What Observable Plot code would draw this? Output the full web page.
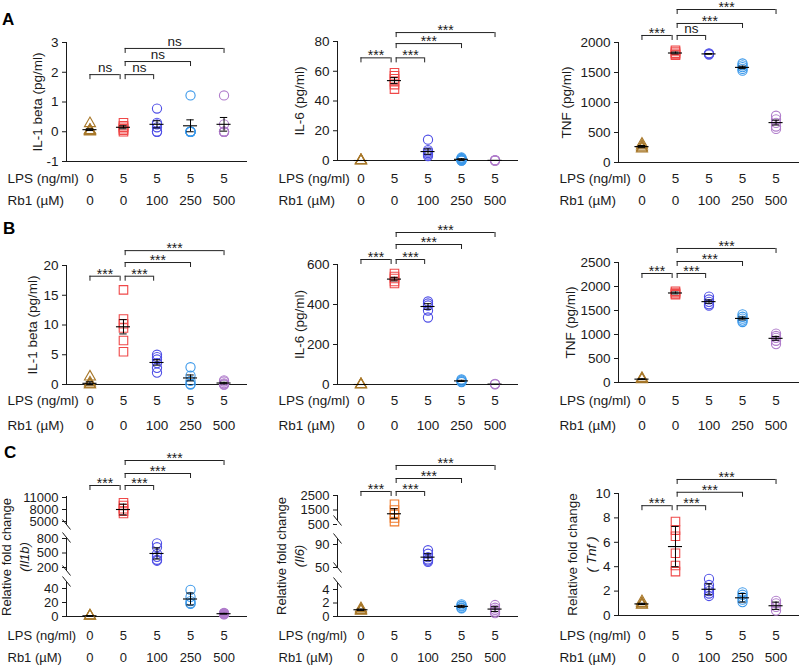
<!DOCTYPE html>
<html><head><meta charset="utf-8">
<script src="https://cdn.jsdelivr.net/npm/d3@7"></script>
<script src="https://cdn.jsdelivr.net/npm/@observablehq/plot@0.6"></script>
<style>
body{margin:0;background:#fff;}
#fig{position:relative;width:800px;height:670px;font-family:"Liberation Sans",Arial,sans-serif;overflow:hidden;background:#fff}
.panel{position:absolute}
#letters{position:absolute;left:0;top:0}
</style></head><body><div id="fig"><svg id="letters" width="800" height="670"></svg></div>
<script>
// ---------- shared categories / labels ----------
const groups = ["Control", "LPS", "LPS + Rb1 100", "LPS + Rb1 250", "LPS + Rb1 500"];
const lpsDose = [0, 5, 5, 5, 5];
const rb1Dose = [0, 0, 100, 250, 500];
const symbols = ["triangle", "square", "circle", "circle", "circle"];
const groupColors = ["#a8782a", "#f04848", "#4f4fe6", "#3a98ea", "#b07ccb"];
const bracketPairs = [[0, 0.9], [1.05, 1.9], [1.05, 3], [1.05, 4]];

// ---------- A: IL-1 beta / IL-6 / TNF (pg/ml) ----------
const A1_ticks = [-1, 0, 1, 2, 3];
const A1_values = [[0.28, 0.05, 0.02, 0, 0.05, 0.02], [0.3, 0.2, 0.15, 0.1, 0.05, 0], [0.78, 0.3, 0.25, 0.15, 0, 0], [1.22, 0, 0, 0, 0, 0], [1.22, 0.25, 0, 0, 0, 0]];
const A1_mean = [0.07, 0.15, 0.25, 0.2, 0.25];
const A1_sem = [0.03, 0.05, 0.12, 0.2, 0.23];
const A1_brackets = [1.92, 1.92, 2.36, 2.8];
const A1_sig = ["ns", "ns", "ns", "ns"];

const A2_ticks = [0, 20, 40, 60, 80];
const A2_values = [[0, 0, 0, 0], [59, 57, 55, 53, 51, 48], [14, 7, 6, 5, 4, 3], [2, 1.5, 1, 0.5, 0, 0], [0.2, 0, 0, 0]];
const A2_mean = [0, 53.7, 6, 0.8, 0.1];
const A2_sem = [0, 2, 1.8, 0.4, 0];
const A2_brackets = [69, 69, 78.6, 86];
const A2_sig = ["***", "***", "***", "***"];

const A3_ticks = [0, 500, 1000, 1500, 2000];
const A3_values = [[310, 280, 250, 230], [1870, 1850, 1820, 1800, 1790], [1820, 1810, 1800], [1650, 1620, 1590, 1560, 1530], [780, 720, 660, 600, 560]];
const A3_mean = [265, 1825, 1810, 1585, 665];
const A3_sem = [18, 15, 5, 20, 40];
const A3_brackets = [2117, 2117, 2317, 2550];
const A3_sig = ["***", "ns", "***", "***"];

// ---------- B ----------
const B1_ticks = [0, 5, 10, 15, 20];
const B1_values = [[1.3, 0.3, 0, 0], [15.9, 11, 10.2, 9.5, 7.4, 5.5], [5.0, 4.6, 4.2, 3.6, 2.8, 2.0], [2.9, 1.5, 0.6, 0.1, 0], [0.7, 0.5, 0.2, 0, 0]];
const B1_mean = [0.2, 9.7, 3.7, 1.1, 0.25];
const B1_sem = [0.25, 1.2, 0.45, 0.5, 0.12];
const B1_brackets = [18.2, 18.2, 20.5, 22.5];
const B1_sig = ["***", "***", "***", "***"];

const B2_ticks = [0, 200, 400, 600];
const B2_values = [[0, 0, 0], [555, 540, 530, 515, 505], [415, 405, 395, 370, 335], [25, 20, 15, 12], [3, 2, 1]];
const B2_mean = [0, 527, 390, 18, 2];
const B2_sem = [0, 9, 14, 3, 0];
const B2_brackets = [625, 625, 700, 760];
const B2_sig = ["***", "***", "***", "***"];

const B3_ticks = [0, 500, 1000, 1500, 2000, 2500];
const B3_values = [[90, 75, 60], [1900, 1875, 1850, 1830], [1790, 1730, 1680, 1630, 1600], [1420, 1370, 1330, 1290, 1260], [1020, 970, 930, 870, 800]];
const B3_mean = [70, 1865, 1685, 1335, 920];
const B3_sem = [8, 20, 35, 30, 40];
const B3_brackets = [2271, 2271, 2521, 2792];
const B3_sig = ["***", "***", "***", "***"];

// ---------- C: relative fold change (broken axes for Il1b, Il6) ----------
const C1_ticks = [0, 20, 40, 200, 500, 800, 5000, 8000, 11000];
const C1_breakData = [0, 40, 200, 800, 5000, 11000];
const C1_breakDisp = [0, 28, 49, 78, 95, 119];
const C1_segments = [[92, 120], [46, 79], [0, 35]];
const C1_slashes = [92, 79, 46, 35];
const C1_values = [[1.2, 1.0, 0.8], [9700, 9000, 8200, 7600, 7000], [700, 620, 480, 420, 360, 340], [38, 28, 22, 19, 18], [5, 4.5, 4, 3.5, 3]];
const C1_mean = [1, 8000, 490, 25, 4];
const C1_sem = [0.1, 1350, 115, 8.5, 0.5];
const C1_brackets = [14000, 14000, 17000, 20250];
const C1_sig = ["***", "***", "***", "***"];

const C2_ticks = [0, 2, 4, 50, 90, 500, 1500, 2500];
const C2_breakData = [0, 4, 50, 90, 500, 2500];
const C2_breakDisp = [0, 27, 49, 72, 92, 121];
const C2_segments = [[96, 121], [49, 78], [0, 34]];
const C2_slashes = [96, 78, 49, 34];
const C2_values = [[1.2, 1.0, 0.9, 0.8], [1900, 1500, 1200, 950, 700], [80, 74, 68, 64, 62, 60], [1.8, 1.6, 1.5, 1.3, 1.2], [1.7, 1.3, 1.0, 0.7, 0.5]];
const C2_mean = [1.0, 1240, 68, 1.5, 1.1];
const C2_sem = [0.1, 345, 6, 0.15, 0.35];
const C2_brackets = [2776, 2776, 3672, 4569];
const C2_sig = ["***", "***", "***", "***"];

const C3_ticks = [0, 2, 4, 6, 8, 10];
const C3_values = [[1.15, 1.0, 0.9, 0.85], [7.7, 7.0, 6.5, 5.1, 4.1, 3.6], [3.0, 2.5, 2.2, 2.0, 1.8, 1.6], [1.9, 1.7, 1.5, 1.3, 1.1], [1.2, 1.0, 0.7, 0.4]];
const C3_mean = [0.95, 5.65, 2.15, 1.45, 0.8];
const C3_sem = [0.05, 1.65, 0.45, 0.35, 0.3];
const C3_brackets = [9.0, 9.0, 10.1, 11.15];
const C3_sig = ["***", "***", "***", "***"];

// ---------- layout ----------
const W = 270, XMIN = -0.7, XMAX = 4.7, XPX = 181;
const rows = {A: {top: 0, h: 218, text: [182, 204]}, B: {top: 218, h: 222, text: [404, 429]}, C: {top: 440, h: 230, text: [639, 661]}};
const cols = [{left: 0, ml: 66}, {left: 270, ml: 67}, {left: 530, ml: 88}];
const ink = "#1a1a1a";

const panels = [
  {row: "A", col: 0, ft: 42, fb: 161, domain: [-1, 3], ticks: A1_ticks, values: A1_values, mean: A1_mean, sem: A1_sem, brackets: A1_brackets, sig: A1_sig, ylabel: [["IL-1 beta (pg/ml)", -29, false]]},
  {row: "A", col: 1, ft: 41, fb: 160, domain: [0, 80], ticks: A2_ticks, values: A2_values, mean: A2_mean, sem: A2_sem, brackets: A2_brackets, sig: A2_sig, ylabel: [["IL-6 (pg/ml)", -38, false]]},
  {row: "A", col: 2, ft: 42, fb: 162, domain: [0, 2000], ticks: A3_ticks, values: A3_values, mean: A3_mean, sem: A3_sem, brackets: A3_brackets, sig: A3_sig, ylabel: [["TNF (pg/ml)", -52, false]]},
  {row: "B", col: 0, ft: 265, fb: 384, domain: [0, 20], ticks: B1_ticks, values: B1_values, mean: B1_mean, sem: B1_sem, brackets: B1_brackets, sig: B1_sig, ylabel: [["IL-1 beta (pg/ml)", -34, false]]},
  {row: "B", col: 1, ft: 264, fb: 384, domain: [0, 600], ticks: B2_ticks, values: B2_values, mean: B2_mean, sem: B2_sem, brackets: B2_brackets, sig: B2_sig, ylabel: [["IL-6 (pg/ml)", -38, false]]},
  {row: "B", col: 2, ft: 262, fb: 382, domain: [0, 2500], ticks: B3_ticks, values: B3_values, mean: B3_mean, sem: B3_sem, brackets: B3_brackets, sig: B3_sig, ylabel: [["TNF (pg/ml)", -48, false]]},
  {row: "C", col: 0, ft: 497, fb: 616, domain: [0, 119], ticks: C1_ticks, map: d3.scaleLinear().domain(C1_breakData).range(C1_breakDisp), segments: C1_segments, slashes: C1_slashes, values: C1_values, mean: C1_mean, sem: C1_sem, brackets: C1_brackets, sig: C1_sig, filled: [false, false, false, false, true], ylabel: [["Relative fold change", -60, false], ["(Il1b)", -42, true]]},
  {row: "C", col: 1, ft: 495, fb: 616, domain: [0, 121], ticks: C2_ticks, map: d3.scaleLinear().domain(C2_breakData).range(C2_breakDisp), segments: C2_segments, slashes: C2_slashes, values: C2_values, mean: C2_mean, sem: C2_sem, brackets: C2_brackets, sig: C2_sig, colors: ["#a8782a", "#f07a2a", "#4f4fe6", "#3a98ea", "#b07ccb"], ylabel: [["Relative fold change", -56, false], ["(Il6)", -38, true]]},
  {row: "C", col: 2, ft: 493, fb: 615, domain: [0, 10], ticks: C3_ticks, values: C3_values, mean: C3_mean, sem: C3_sem, brackets: C3_brackets, sig: C3_sig, ylabel: [["Relative fold change", -46, false], ["( Tnf )", -27, true]]}
];

const symR = {triangle: 4.1, square: 4.8, circle: 4.6};
const fig = document.getElementById("fig");

function render(p) {
  const row = rows[p.row], col = cols[p.col];
  const f = p.map || (v => v);
  const mt = p.ft - row.top, mb = row.top + row.h - p.fb;
  const unit = (p.domain[1] - p.domain[0]) / (p.fb - p.ft);
  const xu = (XMAX - XMIN) / XPX;
  const colors = p.colors || groupColors;
  const filled = p.filled || [false, false, false, false, false];
  const marks = [];

  // axis lines
  if (p.segments) {
    marks.push(Plot.ruleX(p.segments, {x: () => XMIN, y1: d => d[0], y2: d => d[1], stroke: ink, strokeWidth: 1}));
    marks.push(Plot.link(p.slashes, {x1: () => XMIN - 4 * xu, x2: () => XMIN + 4 * xu, y1: d => d + 5 * unit, y2: d => d - 5 * unit, stroke: ink, strokeWidth: 1}));
  } else {
    marks.push(Plot.ruleX([XMIN], {x: d => d, y1: () => p.domain[0], y2: () => p.domain[1], stroke: ink, strokeWidth: 1}));
  }
  marks.push(Plot.ruleY([p.domain[0]], {y: d => d, x1: () => XMIN, x2: () => XMAX, stroke: ink, strokeWidth: 1}));

  // points
  p.values.forEach((vals, g) => {
    marks.push(Plot.dot(vals, {x: () => g, y: d => f(d), symbol: symbols[g], r: symR[symbols[g]],
      stroke: colors[g], fill: filled[g] ? colors[g] : "none", strokeWidth: 1.1}));
  });

  // mean ± SEM
  const ms = p.mean.map((m, i) => ({i, m, lo: m - p.sem[i], hi: m + p.sem[i], s: p.sem[i]}));
  const withSem = ms.filter(d => d.s > 0);
  marks.push(Plot.ruleY(ms, {y: d => f(d.m), x1: d => d.i - 0.21, x2: d => d.i + 0.21, stroke: "#000", strokeWidth: 1.1}));
  marks.push(Plot.ruleX(withSem, {x: d => d.i, y1: d => f(d.lo), y2: d => f(d.hi), stroke: "#000", strokeWidth: 1}));
  marks.push(Plot.ruleY(withSem, {y: d => f(d.hi), x1: d => d.i - 0.11, x2: d => d.i + 0.11, stroke: "#000", strokeWidth: 1}));
  marks.push(Plot.ruleY(withSem, {y: d => f(d.lo), x1: d => d.i - 0.11, x2: d => d.i + 0.11, stroke: "#000", strokeWidth: 1}));

  // significance brackets
  const drop = 5 * unit;
  const br = bracketPairs.map(([a, b], i) => ({a, b, y: f(p.brackets[i]), s: p.sig[i]}));
  marks.push(Plot.ruleY(br, {y: "y", x1: "a", x2: "b", stroke: "#222", strokeWidth: 1}));
  marks.push(Plot.ruleX(br, {x: "a", y1: "y", y2: d => d.y - drop, stroke: "#222", strokeWidth: 1}));
  marks.push(Plot.ruleX(br, {x: "b", y1: "y", y2: d => d.y - drop, stroke: "#222", strokeWidth: 1}));
  marks.push(Plot.text(br.filter(d => d.s === "***"), {x: d => (d.a + d.b) / 2, y: "y", text: "s", dy: -2, fontSize: 14, fill: ink}));
  marks.push(Plot.text(br.filter(d => d.s === "ns"), {x: d => (d.a + d.b) / 2, y: "y", text: "s", dy: -6.8, fontSize: 13.5, fill: ink}));

  // treatment rows
  const dy1 = row.text[0] - p.fb, dy2 = row.text[1] - p.fb;
  marks.push(Plot.text(lpsDose, {x: (d, i) => i, text: d => String(d), frameAnchor: "bottom", textAnchor: "middle", dy: dy1, fill: ink}));
  marks.push(Plot.text(rb1Dose, {x: (d, i) => i, text: d => String(d), frameAnchor: "bottom", textAnchor: "middle", dy: dy2, fill: ink}));
  marks.push(Plot.text(["LPS (ng/ml)"], {x: () => XMIN, text: d => d, frameAnchor: "bottom", textAnchor: "start", dx: -59, dy: dy1, fill: ink}));
  marks.push(Plot.text(["Rb1 (\u00b5M)"], {x: () => XMIN, text: d => d, frameAnchor: "bottom", textAnchor: "start", dx: -59, dy: dy2, fill: ink}));

  // y label(s)
  p.ylabel.forEach(([txt, dx, it]) => {
    marks.push(Plot.text([txt], {text: d => d, frameAnchor: "left", textAnchor: "middle", lineAnchor: "middle", rotate: -90, dx, fontStyle: it ? "italic" : "normal", fill: ink}));
  });

  const tmap = new Map(p.ticks.map(t => [f(t), String(t)]));
  const svg = Plot.plot({
    width: W, height: row.h,
    marginLeft: col.ml, marginRight: W - col.ml - XPX, marginTop: mt, marginBottom: mb,
    x: {domain: [XMIN, XMAX], axis: null},
    y: {domain: p.domain, ticks: p.ticks.map(f), tickFormat: d => tmap.get(d), tickSize: 4, tickPadding: 4, label: null},
    style: {fontFamily: "'Liberation Sans', Arial, sans-serif", fontSize: p.map ? "13px" : "13.5px", color: ink, background: "transparent", overflow: "visible"},
    marks
  });
  const div = document.createElement("div");
  div.className = "panel";
  div.style.left = col.left + "px";
  div.style.top = row.top + "px";
  div.append(svg);
  fig.append(div);
}
panels.forEach(render);

// panel letters
const letters = [["A", 2, 25], ["B", 3, 234], ["C", 4, 458]];
const ls = d3.select("#letters");
ls.selectAll("text").data(letters).join("text")
  .attr("x", d => d[1]).attr("y", d => d[2]).text(d => d[0])
  .attr("font-family", "'Liberation Sans', Arial, sans-serif").attr("font-weight", "bold").attr("font-size", 17).attr("fill", "#000");
document.getElementById("fig").appendChild(document.getElementById("letters"));
</script></body></html>
